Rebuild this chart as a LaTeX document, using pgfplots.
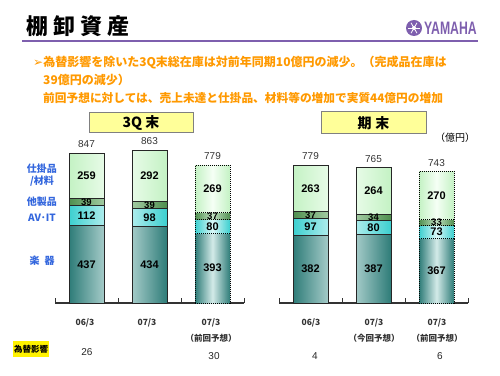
\documentclass[border=0pt]{standalone}
\usepackage{pgfplots}
\pgfplotsset{compat=1.18}
\usepackage{fontspec}
\setmainfont{Liberation Sans}
\newfontfamily\jp{Noto Sans CJK JP}
\newfontfamily\dv{DejaVu Sans}
\definecolor{orng}{HTML}{FF9900}
\definecolor{purp}{HTML}{7E5FAE}
\definecolor{lblue}{HTML}{3366DD}
\definecolor{gkD}{HTML}{2E7C78}
\definecolor{gkL}{HTML}{D3EAE8}
\definecolor{avD}{HTML}{3CCFCF}
\definecolor{avL}{HTML}{DAF8F8}
\definecolor{otD}{HTML}{4F8F4F}
\definecolor{otL}{HTML}{C2E2C2}
\definecolor{wpD}{HTML}{C4F2C4}
\definecolor{wpL}{HTML}{F5FFF5}
\definecolor{boxY}{HTML}{FFFF99}
\pgfplotsset{
  panel/.style={width=189pt, height=177pt, scale only axis, xmin=-0.5, xmax=2.5,
    ymin=0, ymax=1000, ybar stacked, bar width=35pt, clip=false, anchor=south west,
    reverse stacked plots=false},
  solidb/.style={draw=black!85, line width=1pt},
  dotb/.style={draw=black, line width=1pt, densely dotted},
  gakki/.style={left color=gkD, right color=gkD, middle color=gkL},
  avit/.style={left color=avD, right color=avD, middle color=avL},
  othr/.style={left color=otD, right color=otD, middle color=otL},
  wip/.style={left color=wpD, right color=wpD, middle color=wpL},
  baseax/.style={axis lines*=left, hide y axis, xtick={-0.5,0.5,1.5,2.5}, xticklabels={},
    tick align=inside, major tick length=5pt,
    axis line style={line width=1.2pt, black!80}, x tick style={line width=1pt, black!80}},
}
\tikzset{
  vl/.style={font=\fontsize{11}{11}\selectfont\bfseries, inner sep=0pt},
  vs/.style={font=\fontsize{9.5}{9.5}\selectfont\bfseries, inner sep=0pt},
  tl/.style={font=\fontsize{10}{10}\selectfont, text=black!80, anchor=south, inner sep=0pt, yshift=5pt},
}
\begin{document}
\begin{tikzpicture}[x=1pt,y=1pt]
\path[use as bounding box] (0,0) rectangle (500,375);
% title
\node[anchor=west, inner sep=0pt, font=\jp\bfseries\fontsize{22}{22}\selectfont] at (26,348.5)
  {棚\hspace{5pt}卸\hspace{5pt}資\hspace{5pt}産};
\draw[purp, line width=2pt] (22,334) -- (478,334);
% logo
\fill[purp] (414,347) circle (8);
\foreach \a in {0,60,...,300} \draw[white, line width=0.8pt] (414,347) -- ++(\a:6);
\fill[white] (414,347) circle (2);
\node[anchor=west, inner sep=0pt, text=purp, xscale=0.68, font=\fontsize{18}{18}\selectfont\bfseries] at (424,347) {YAMAHA};
% orange text
\node[anchor=west, inner sep=0pt, text=orng, font=\jp\bfseries\fontsize{12}{12}\selectfont] at (33,312)
  {{\dv\mdseries\fontsize{12}{12}\selectfont ➢}為替影響を除いた3Q末総在庫は対前年同期10億円の減少。（完成品在庫は};
\node[anchor=west, inner sep=0pt, text=orng, font=\jp\bfseries\fontsize{12}{12}\selectfont] at (43,295)
  {39億円の減少）};
\node[anchor=west, inner sep=0pt, text=orng, font=\jp\bfseries\fontsize{11.7}{12}\selectfont] at (43,277)
  {前回予想に対しては、売上未達と仕掛品、材料等の増加で実質44億円の増加};
% panel boxes
\draw[fill=boxY, draw=black!50, line width=1pt] (89,242) rectangle (193,262);
\node[font=\jp\bfseries\fontsize{14}{14}\selectfont] at (141,252) {3Q 末};
\draw[fill=boxY, draw=black!50, line width=1pt] (321,241) rectangle (426,263);
\node[font=\jp\bfseries\fontsize{14}{14}\selectfont] at (373.5,252) {期\hspace{4pt}末};
\node[font=\jp\fontsize{10}{10}\selectfont] at (455,237) {（億円）};
% left category labels
\begin{scope}[every node/.style={text=lblue, font=\jp\bfseries\fontsize{10}{10}\selectfont, inner sep=0pt}]
\node at (42,206) {仕掛品};
\node at (42,194) {/材料};
\node at (42,173) {他製品};
\node at (42,157) {AV･IT};
\node at (42,114) {楽\hspace{5pt}器};
\end{scope}
% x labels
\begin{scope}[every node/.style={text=black!80, font=\jp\bfseries\fontsize{8.5}{8.5}\selectfont, inner sep=0pt}]
\node at (85,52) {06/3};
\node at (147,52) {07/3};
\node at (211,52) {07/3};
\node at (211,37) {（前回予想）};
\node at (311,52) {06/3};
\node at (374,52) {07/3};
\node at (374,37) {（今回予想）};
\node at (437,52) {07/3};
\node at (437,37) {（前回予想）};
\end{scope}
% FX effect
\fill[yellow] (13,18) rectangle (49,34);
\node[font=\jp\bfseries\fontsize{8.5}{8.5}\selectfont, inner sep=0pt] at (31,26) {為替影響};
\begin{scope}[every node/.style={font=\fontsize{10}{10}\selectfont, text=black!85, inner sep=0pt}]
\node at (87,23) {26};
\node at (214,19) {30};
\node at (315,19) {4};
\node at (440,19) {6};
\end{scope}

% ---------- left panel: actual ----------
\begin{axis}[panel, baseax, at={(55pt,72pt)}]
\addplot[solidb, gakki] coordinates {(0,437) (1,434)};
\addplot[solidb, avit] coordinates {(0,112) (1,98)};
\addplot[solidb, othr] coordinates {(0,39) (1,39)};
\addplot[solidb, wip] coordinates {(0,259) (1,292)};
\node[vl] at (axis cs:0,218.5) {437};
\node[vl] at (axis cs:0,493) {112};
\node[vs] at (axis cs:0,568.5) {39};
\node[vl] at (axis cs:0,717.5) {259};
\node[vl] at (axis cs:1,217) {434};
\node[vl] at (axis cs:1,483) {98};
\node[vs] at (axis cs:1,551.5) {39};
\node[vl] at (axis cs:1,717) {292};
\node[tl] at (axis cs:0,847) {847};
\node[tl] at (axis cs:1,863) {863};
\end{axis}
% ---------- left panel: forecast ----------
\begin{axis}[panel, hide axis, at={(55pt,72pt)}]
\addplot[dotb, gakki] coordinates {(2,393)};
\addplot[dotb, avit] coordinates {(2,80)};
\addplot[dotb, othr] coordinates {(2,37)};
\addplot[dotb, wip] coordinates {(2,269)};
\node[vl] at (axis cs:2,196.5) {393};
\node[vl] at (axis cs:2,431) {80};
\node[vs] at (axis cs:2,492.5) {37};
\node[vl] at (axis cs:2,644.5) {269};
\node[tl] at (axis cs:2,779) {779};
\end{axis}
% ---------- right panel: actual ----------
\begin{axis}[panel, baseax, at={(279pt,72pt)}]
\addplot[solidb, gakki] coordinates {(0,382) (1,387)};
\addplot[solidb, avit] coordinates {(0,97) (1,80)};
\addplot[solidb, othr] coordinates {(0,37) (1,34)};
\addplot[solidb, wip] coordinates {(0,263) (1,264)};
\node[vl] at (axis cs:0,191) {382};
\node[vl] at (axis cs:0,430.5) {97};
\node[vs] at (axis cs:0,497.5) {37};
\node[vl] at (axis cs:0,647.5) {263};
\node[vl] at (axis cs:1,193.5) {387};
\node[vl] at (axis cs:1,425) {80};
\node[vs] at (axis cs:1,485) {34};
\node[vl] at (axis cs:1,633) {264};
\node[tl] at (axis cs:0,779) {779};
\node[tl] at (axis cs:1,765) {765};
\end{axis}
% ---------- right panel: forecast ----------
\begin{axis}[panel, hide axis, at={(279pt,72pt)}]
\addplot[dotb, gakki] coordinates {(2,367)};
\addplot[dotb, avit] coordinates {(2,73)};
\addplot[dotb, othr] coordinates {(2,33)};
\addplot[dotb, wip] coordinates {(2,270)};
\node[vl] at (axis cs:2,183.5) {367};
\node[vl] at (axis cs:2,400) {73};
\node[vs] at (axis cs:2,459) {33};
\node[vl] at (axis cs:2,608) {270};
\node[tl] at (axis cs:2,743) {743};
\end{axis}
\end{tikzpicture}
\end{document}
